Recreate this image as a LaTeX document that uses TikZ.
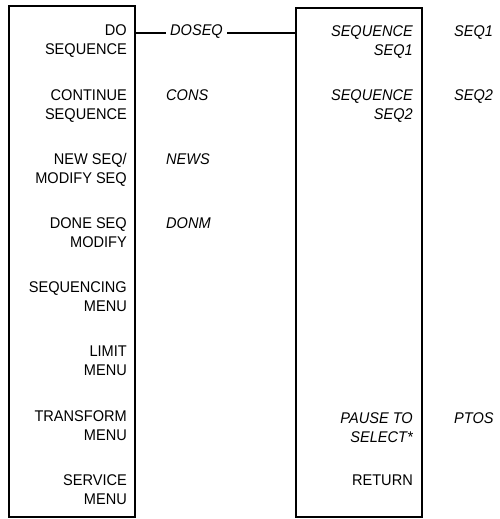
\documentclass[tikz,border=0pt]{standalone}
\usepackage{fontspec}
\setmainfont{Liberation Sans}[FakeStretch=0.94]
\begin{document}
\begin{tikzpicture}[x=1pt,y=-1pt,
  box/.style={draw,line width=1.8pt,inner sep=0pt},
  item/.style={inner sep=0pt,align=right,anchor=base east,font=\fontsize{15.5}{19}\selectfont},
  lab/.style={inner sep=0pt,anchor=base west,font=\fontsize{15.5}{19}\selectfont\itshape},
  conn/.style={line width=1.8pt}]
\useasboundingbox (0,0) rectangle (499,519);
\node[box,minimum width=126pt,minimum height=511pt] (lbox) at (72,261.5) {};
\node[box,minimum width=126pt,minimum height=509pt] (rbox) at (359,262.5) {};
% left column (anchored at the baseline of the last line)
\node[item] (l1) at (127,55) {DO\\SEQUENCE};
\node[item] (l2) at (127,119) {CONTINUE\\SEQUENCE};
\node[item] (l3) at (127,183) {NEW SEQ/\\MODIFY SEQ};
\node[item] (l4) at (127,247) {DONE SEQ\\MODIFY};
\node[item] (l5) at (127,311) {SEQUENCING\\MENU};
\node[item] (l6) at (127,375) {LIMIT\\MENU};
\node[item] (l7) at (127,440) {TRANSFORM\\MENU};
\node[item] (l8) at (127,504) {SERVICE\\MENU};
% middle labels
\node[lab,inner xsep=4pt] (m1) at (166,36) {DOSEQ};
\node[lab] (m2) at (166,100) {CONS};
\node[lab] (m3) at (166,164) {NEWS};
\node[lab] (m4) at (166,228) {DONM};
% right column
\node[item,font=\fontsize{15.5}{19}\selectfont\itshape] (r1) at (413,56) {SEQUENCE\\SEQ1};
\node[item,font=\fontsize{15.5}{19}\selectfont\itshape] (r2) at (413,119) {SEQUENCE\\SEQ2};
\node[item,font=\fontsize{15.5}{19}\selectfont\itshape] (r3) at (413,442) {PAUSE TO\\SELECT*};
\node[item] (r4) at (413,485) {RETURN};
% far right labels
\node[lab] (f1) at (454,37) {SEQ1};
\node[lab] (f2) at (454,100) {SEQ2};
\node[lab] (f3) at (454,423) {PTOS};
% connector
\draw[conn] (lbox.east |- m1.mid) -- (m1.mid west);
\draw[conn] (m1.mid east) -- (rbox.west |- m1.mid);
\end{tikzpicture}
\end{document}
